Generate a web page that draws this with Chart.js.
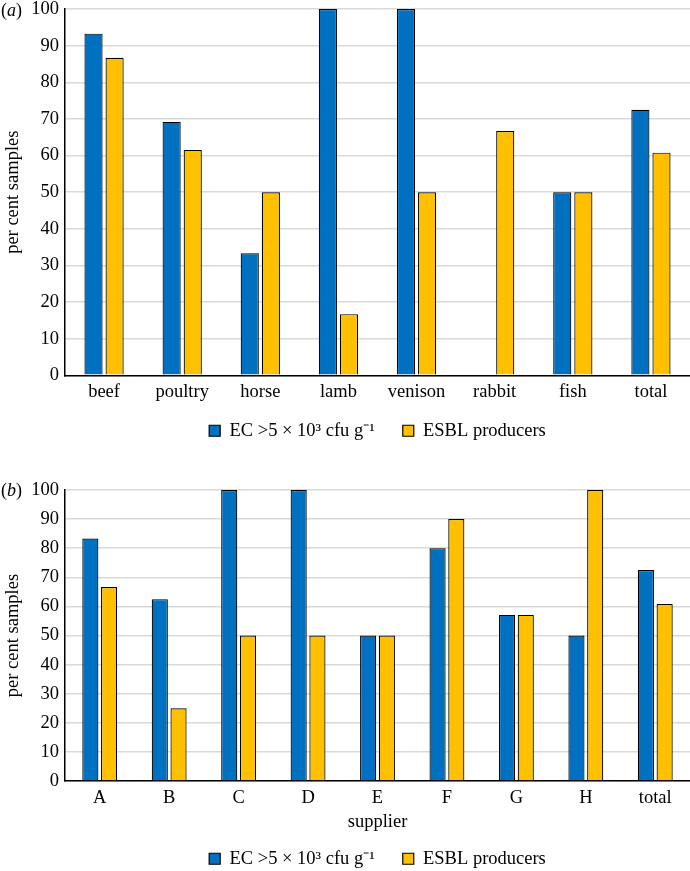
<!DOCTYPE html>
<html>
<head>
<meta charset="utf-8">
<script src="https://cdn.jsdelivr.net/npm/chart.js@4.4.1/dist/chart.umd.min.js"></script>
<style>
	html, body { margin: 0; padding: 0; background: #fff; }
	body { width: 690px; height: 871px; position: relative; overflow: hidden; font-family: 'Liberation Serif', serif; }
	.panel { position: absolute; left: 0; width: 690px; }
	#panel-a { top: -8px; height: 468px; }
	#panel-b { top: 460px; height: 411px; }
	.tag { position: absolute; left: 1px; font-size: 18px; line-height: 1; color: #000; }
</style>
</head>
<body>
<div class="panel" id="panel-a"><canvas id="chart-a"></canvas></div>
<div class="panel" id="panel-b"><canvas id="chart-b"></canvas></div>
<div class="tag" style="top: 1px;">(<i>a</i>)</div>
<div class="tag" style="top: 481px;">(<i>b</i>)</div>
<script>
const meatTypes = ['beef', 'poultry', 'horse', 'lamb', 'venison', 'rabbit', 'fish', 'total'];
const meatEc = [93.3, 69.2, 33.3, 100, 100, 0, 50, 72.5];
const meatEsbl = [86.7, 61.5, 50, 16.7, 50, 66.7, 50, 60.8];

const suppliers = ['A', 'B', 'C', 'D', 'E', 'F', 'G', 'H', 'total'];
const supplierEc = [83.3, 62.5, 100, 100, 50, 80, 57.1, 50, 72.5];
const supplierEsbl = [66.7, 25, 50, 50, 50, 90, 57.1, 100, 60.8];

const seriesNames = ['EC >5 × 10³ cfu g⁻¹', 'ESBL producers'];
const yTickStep = 10;
const yMax = 100;

const theme = {
	blue: '#0070c0',
	yellow: '#ffc000',
	grid: '#d9d9d9',
	font: { family: "'Liberation Serif', serif", size: 18.5 },
};

Chart.defaults.color = '#000';
Chart.defaults.font = theme.font;

// nudge the legend up a bit, its padding also sets the gap between items
const legendShift = (amount) => ({
	id: 'legendShift',
	afterLayout(chart) {
		chart.legend.top -= amount;
		chart.legend.bottom -= amount;
	}
});

function buildChart(canvasId, labels, ecValues, esblValues, xTitle, padding, shift) {
	return new Chart(
		document.getElementById(canvasId),
		{
			type: 'bar',
			data: {
				labels: labels,
				datasets: [
					{
						label: seriesNames[0],
						data: ecValues,
						backgroundColor: theme.blue,
						borderColor: '#000',
						borderWidth: 1.2,
						categoryPercentage: 0.54,
						barPercentage: 0.86,
					},
					{
						label: seriesNames[1],
						data: esblValues,
						backgroundColor: theme.yellow,
						borderColor: '#000',
						borderWidth: 1.2,
						categoryPercentage: 0.54,
						barPercentage: 0.86,
					}
				]
			},
			options: {
				responsive: true,
				maintainAspectRatio: false,
				animation: false,
				devicePixelRatio: 1,
				layout: { padding: padding },
				scales: {
					x: {
						grid: { display: false, drawTicks: false },
						border: { display: true, color: '#000', width: 1.5 },
						ticks: { padding: 6, font: theme.font, color: '#000' },
						title: {
							display: !!xTitle,
							text: xTitle,
							font: theme.font,
							color: '#000',
							padding: { top: -4, bottom: 0 },
						},
					},
					y: {
						min: 0,
						max: yMax,
						ticks: { stepSize: yTickStep, padding: 6, font: theme.font, color: '#000' },
						grid: { color: theme.grid, lineWidth: 1.6, drawTicks: false },
						border: { display: true, color: '#000', width: 1.5 },
						title: {
							display: true,
							text: 'per cent samples',
							font: theme.font,
							color: '#000',
							padding: { top: 2, bottom: 0 },
						},
						afterFit: (scale) => { scale.width = 65; },
					}
				},
				plugins: {
					legend: {
						position: 'bottom',
						fullSize: false,
						labels: {
							boxWidth: 11,
							boxHeight: 11,
							padding: 28,
							color: '#000',
							font: theme.font,
						},
					},
					tooltip: { enabled: false },
				}
			},
			plugins: [legendShift(shift)]
		}
	);
}

const meatChart = buildChart('chart-a', meatTypes, meatEc, meatEsbl, '',
	{ top: 0, right: 0, bottom: -6, left: 0 }, 16);
const supplierChart = buildChart('chart-b', suppliers, supplierEc, supplierEsbl, 'supplier',
	{ top: 30, right: 0, bottom: -19, left: 0 }, 12);
</script>
</body>
</html>
